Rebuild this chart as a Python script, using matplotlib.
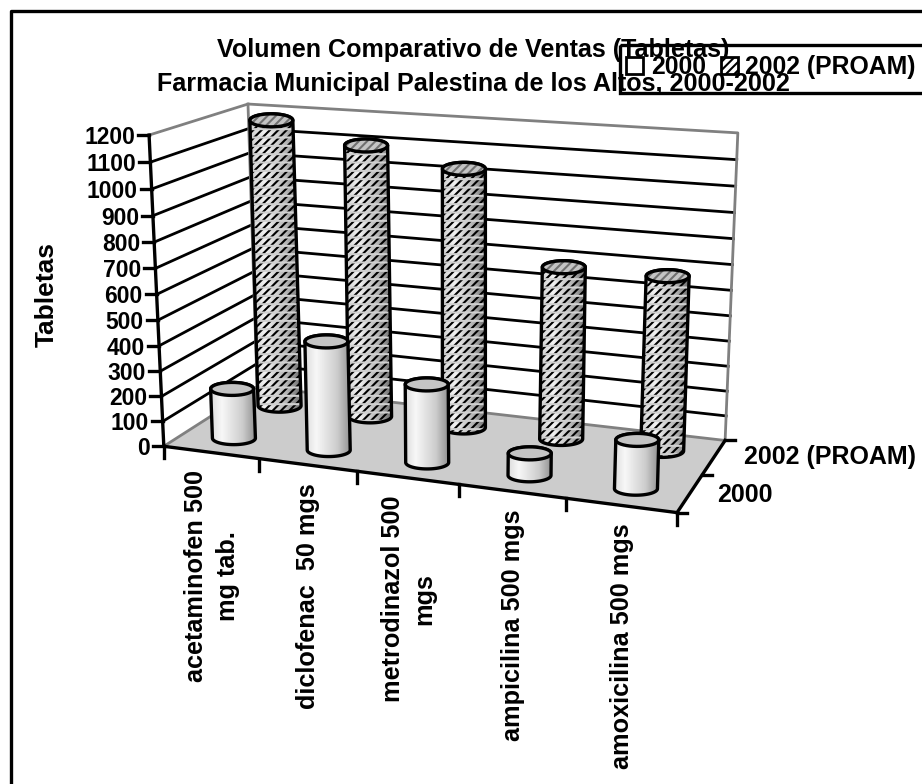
import numpy as np
import matplotlib
matplotlib.use('Agg')
import matplotlib.pyplot as plt
from matplotlib.patches import Polygon, Patch, PathPatch, Rectangle
from matplotlib.path import Path

plt.rcParams['font.family'] = ['Liberation Sans', 'DejaVu Sans']
plt.rcParams['font.weight'] = 'bold'
plt.rcParams['hatch.linewidth'] = 1.5
plt.rcParams['hatch.color'] = 'black'

title = 'Volumen Comparativo de Ventas (Tabletas)\nFarmacia Municipal Palestina de los Altos, 2000-2002'
categories = ['acetaminofen 500\nmg tab.', 'diclofenac  50 mgs', 'metrodinazol 500\nmgs',
              'ampicilina 500 mgs', 'amoxicilina 500 mgs']
series_names = ['2000', '2002 (PROAM)']
values_2000 = [200, 430, 305, 85, 185]
values_2002 = [1175, 1100, 1035, 685, 685]
y_ticks = list(range(0, 1300, 100))
y_max = 1200

# camera fit: (x, depth, height) box corners -> pixel position in the image
box = [(0, 0, 0), (1, 0, 0), (1, 1, 0), (0, 1, 0), (0, 0, 1), (0, 1, 1), (1, 1, 1)]
pix = [(163, 446), (677, 513), (725, 440), (258, 387), (150, 135), (247, 104), (738, 133)]

A, b = [], []
for (X, D, Z), (u, v) in zip(box, pix):
    A.append([X, D, Z, 1, 0, 0, 0, 0, -u * X, -u * D, -u * Z])
    A.append([0, 0, 0, 0, X, D, Z, 1, -v * X, -v * D, -v * Z])
    b += [u, v]
cam = np.linalg.lstsq(np.array(A, float), np.array(b, float), rcond=None)[0]
cam = np.append(cam, 1).reshape(3, 4)


def proj(x, d, val):
    p = cam @ np.array([x, d, val / y_max, 1.0])
    return p[0] / p[2], p[1] / p[2]


def arc(cx, cy, rx, ry, a0, a1):
    t = np.radians(np.linspace(a0, a1, 40))
    return np.column_stack([cx + rx * np.cos(t), cy + ry * np.sin(t)])


fig = plt.figure(figsize=(9.22, 7.84), dpi=100)
ax = fig.add_axes([0, 0, 1, 1])
ax.set_xlim(0, 922)
ax.set_ylim(784, 0)
ax.axis('off')

# outer chart frame
ax.plot([11, 11, 925], [790, 11, 11], color='black', lw=2.4, zorder=1)

# floor and walls
ax.add_patch(Polygon([proj(0, 0, 0), proj(1, 0, 0), proj(1, 1, 0), proj(0, 1, 0)],
                     fc='#cccccc', ec='none', zorder=1))
grey = '#808080'
for v in y_ticks[1:-1]:
    ax.plot(*zip(proj(0, 0, v), proj(0, 1, v), proj(1, 1, v)), color='black', lw=2, zorder=2)
ax.plot(*zip(proj(0, 0, y_max), proj(0, 1, y_max), proj(1, 1, y_max), proj(1, 1, 0)), color=grey, lw=2, zorder=2)
ax.plot(*zip(proj(0, 1, y_max), proj(0, 1, 0)), color=grey, lw=2, zorder=2)
ax.plot(*zip(proj(0, 0, 0), proj(0, 1, 0), proj(1, 1, 0)), color=grey, lw=2, zorder=2)

# axes lines and ticks
ax.plot(*zip(proj(0, 0, y_max), proj(0, 0, 0), proj(1, 0, 0), proj(1, 1, 0)), color='black', lw=2.4, zorder=3)
for v in y_ticks:
    px, py = proj(0, 0, v)
    ax.plot([px - 11, px], [py, py], color='black', lw=2.4, zorder=3)
    ax.text(px - 14, py, str(v), ha='right', va='center_baseline', fontsize=16.5, zorder=3)
for i in range(6):
    px, py = proj(i / 5, 0, 0)
    ax.plot([px, px], [py, py + 12], color='black', lw=2.4, zorder=3)
for d in [0, 0.5, 1]:
    px, py = proj(1, d, 0)
    ax.plot([px, px + 10], [py, py], color='black', lw=2.4, zorder=3)

for i, name in enumerate(categories):
    px, py = proj((i + 0.5) / 5, 0, 0)
    ax.text(px + 1, py + 18, name, rotation=90, ha='center', va='top', ma='center',
            fontsize=18.2, linespacing=1.4, zorder=3)

px, py = proj(1, 0.25, 0)
ax.text(px + 27, py + 2, series_names[0], ha='left', va='center', fontsize=18)
px, py = proj(1, 0.75, 0)
ax.text(px + 30, py, series_names[1], ha='left', va='center', fontsize=18)
ax.text(47, 294, 'Tabletas', rotation=90, ha='center', va='center', fontsize=19)
ax.text(473, 67, title, ha='center', va='center', fontsize=18.1, linespacing=1.5, zorder=6)


def cylinder(x, d, val, shade, hatch, z):
    bx, by = proj(x, d, 0)
    tx, ty = proj(x, d, val)
    rx, ry = 21.5, 6.5
    outline = np.vstack([arc(bx, by, rx, ry, 0, 180), arc(tx, ty, rx, ry, 180, 360)])
    codes = [Path.MOVETO] + [Path.LINETO] * (len(outline) - 1) + [Path.CLOSEPOLY]
    body = Path(np.vstack([outline, outline[0]]), codes)
    x0, x1 = min(bx, tx) - rx - 1, max(bx, tx) + rx + 1
    im = ax.imshow(np.array([shade]), cmap='gray', vmin=0, vmax=1, aspect='auto',
                   extent=[x0, x1, by + ry + 1, ty - ry - 1], interpolation='bilinear', zorder=z)
    im.set_clip_path(PathPatch(body, transform=ax.transData))
    cap = arc(tx, ty, rx, ry, 0, 360)
    if hatch:
        ax.add_patch(PathPatch(body, fc='none', ec='black', hatch=hatch, lw=0, zorder=z))
        # light rows break the stripes into dashes
        ax.add_patch(PathPatch(body, fc='none', ec='#d0d0d0', hatch='--', lw=0, zorder=z))
    ax.add_patch(PathPatch(body, fc='none', ec='black', lw=2.4, zorder=z + 0.001))
    ax.add_patch(Polygon(cap, fc='#c4c4c4', ec='none', zorder=z + 0.002))
    if hatch:
        ax.add_patch(Polygon(cap, fc='none', ec='#707070', hatch=hatch, lw=0, zorder=z + 0.002))
    ax.add_patch(Polygon(cap, fc='none', ec='black', lw=2.4, zorder=z + 0.003))


shade_2000 = np.interp(np.linspace(0, 1, 60), [0, 0.25, 0.7, 1], [0.85, 0.97, 0.8, 0.55])
shade_2002 = np.interp(np.linspace(0, 1, 60), [0, 0.3, 0.7, 1], [0.8, 0.95, 0.7, 0.4])
z = 4.0
for i, v in enumerate(values_2002):
    cylinder((i + 0.5) / 5, 0.75, v, shade_2002, '////', z)
    z += 0.01
z = 4.5
for i, v in enumerate(values_2000):
    cylinder((i + 0.5) / 5 + 0.004, 0.22, v, shade_2000, None, z)
    z += 0.01

ax.set_xlim(0, 922)
ax.set_ylim(784, 0)

# legend sits over the title, no fill, so both stay readable
ax.add_patch(Rectangle((620, 45), 310, 48, fc='none', ec='black', lw=2.4, zorder=7))
handles = [Patch(fc='white', ec='black', lw=2), Patch(fc='white', ec='black', lw=2, hatch='////')]
leg = ax.legend(handles, series_names, loc='upper left', bbox_to_anchor=(618, 47),
                bbox_transform=ax.transData, ncol=2, frameon=False,
                borderaxespad=0, handlelength=0.7, handleheight=0.7, handletextpad=0.3,
                columnspacing=0.6, borderpad=0.33, prop={'weight': 'bold', 'size': 17.8})
leg.set_zorder(7)

fig.savefig('out.png', dpi=100)
